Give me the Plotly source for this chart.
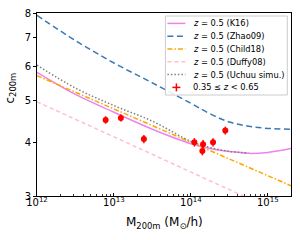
import plotly.graph_objects as go

# ---- data ----
mass_grid = [1e12, 10**12.5, 1e13, 10**13.5, 1e14, 10**14.25, 10**14.5, 10**14.75, 1e15, 2e15]
c_k16 = [5.82, 5.17, 4.70, 4.29, 3.97, 3.87, 3.81, 3.77, 3.79, 3.87]
c_zhao09 = [7.90, 6.90, 6.12, 5.50, 4.93, 4.66, 4.46, 4.36, 4.31, 4.29]
c_child18 = [5.72, 5.23, 4.78, 4.37, 4.00, None, 3.65, None, 3.34, 3.17]
c_duffy08 = [4.97, 4.53, 4.12, 3.75, 3.41, None, 3.10, None, 2.82, 2.67]

mass_uchuu = [1e12, 10**12.5, 1e13, 10**13.5, 1e14, 10**14.25, 10**14.5, 10**14.75]
c_uchuu = [6.05, 5.35, 4.87, 4.48, 4.02, 3.89, 3.81, 3.78]

obs_mass = [7.8e12, 1.23e13, 2.45e13, 1.11e14, 1.44e14, 1.41e14, 1.94e14, 2.8e14]
obs_c = [4.51, 4.56, 4.07, 4.00, 3.96, 3.82, 4.00, 4.26]
obs_err = [0.09, 0.09, 0.09, 0.09, 0.09, 0.09, 0.09, 0.09]

x_major = [1e12, 1e13, 1e14, 1e15]
x_major_text = ["10<sup>12</sup>", "10<sup>13</sup>", "10<sup>14</sup>", "10<sup>15</sup>"]
x_minor = [m * 10**e for e in (12, 13, 14) for m in range(2, 10)] + [2e15]
y_ticks = [3, 4, 5, 6, 7, 8]

labels = ["<i>z</i> = 0.5 (K16)", "<i>z</i> = 0.5 (Zhao09)", "<i>z</i> = 0.5 (Child18)",
          "<i>z</i> = 0.5 (Duffy08)", "<i>z</i> = 0.5 (Uchuu simu.)", "0.35 \u2264 <i>z</i> &lt; 0.65"]
x_title = "M<sub>200m</sub> (M<sub>\u2299</sub>/h)"
y_title = "c<sub>200m</sub>"

FONT = "DejaVu Sans"

# plot-area geometry (pixels) used to place the hand-made legend and titles
W, H = 300, 240
ML, MR, MT, MB = 36.5, 9.3, 13, 44
PW, PH = W - ML - MR, H - MT - MB


def px(x):
    return (x - ML) / PW


def py(y):
    return (H - MB - y) / PH


def pairs(xs, ys):
    ox, oy = [], []
    for a, b in zip(xs, ys):
        if b is not None:
            ox.append(a)
            oy.append(b)
    return ox, oy


styles = [
    dict(color="violet", width=1.5),
    dict(color="#3a78b5", width=1.5, dash="6px,3.5px"),
    dict(color="orange", width=1.5, dash="5px,2px,1.5px,2px"),
    dict(color="pink", width=1.5, dash="4px,3px"),
    dict(color="grey", width=1.5, dash="1.5px,2px"),
]

fig = go.Figure()
series = [(mass_grid, c_k16, "spline"), (mass_grid, c_zhao09, "spline"), (mass_grid, c_child18, "linear"),
          (mass_grid, c_duffy08, "linear"), (mass_uchuu, c_uchuu, "spline")]
for (xs, ys, shp), st in zip(series, styles):
    x, y = pairs(xs, ys)
    fig.add_trace(go.Scatter(x=x, y=y, mode="lines", line=dict(shape=shp, **st), showlegend=False))

fig.add_trace(go.Scatter(x=obs_mass, y=obs_c, mode="markers",
                         marker=dict(color="red", size=6),
                         error_y=dict(type="data", array=obs_err, color="red", thickness=1.5, width=0),
                         showlegend=False))

# ---- hand-made legend (matplotlib-like compact rows) ----
shapes = [dict(type="rect", xref="paper", yref="paper", x0=px(165), x1=px(287), y0=py(95), y1=py(16),
               line=dict(color="#cccccc", width=1), fillcolor="rgba(255,255,255,0.85)", layer="above")]
rows = [23.4, 36.2, 49.0, 61.8, 74.6, 87.4]
annotations = []
for i, lab in enumerate(labels):
    yy = rows[i]
    if i < 5:
        shapes.append(dict(type="line", xref="paper", yref="paper", x0=px(167), x1=px(185),
                           y0=py(yy), y1=py(yy), line=styles[i], layer="above"))
    else:
        shapes.append(dict(type="line", xref="paper", yref="paper", x0=px(172), x1=px(180),
                           y0=py(yy), y1=py(yy), line=dict(color="red", width=1.5), layer="above"))
        shapes.append(dict(type="line", xref="paper", yref="paper", x0=px(176), x1=px(176),
                           y0=py(yy - 4), y1=py(yy + 4), line=dict(color="red", width=1.5), layer="above"))
    annotations.append(dict(xref="paper", yref="paper", x=px(190.5), y=py(yy), xanchor="left", yanchor="middle",
                            text=lab, showarrow=False, font=dict(family=FONT, size=8.3, color="black")))

# axis titles
annotations.append(dict(xref="paper", yref="paper", x=px(163.6), y=py(223), xanchor="center", yanchor="middle",
                        text=x_title, showarrow=False, font=dict(family=FONT, size=12, color="black")))
annotations.append(dict(xref="paper", yref="paper", x=px(10), y=py(88), xanchor="center", yanchor="middle",
                        text=y_title, textangle=-90, showarrow=False, font=dict(family=FONT, size=12, color="black")))

axis_common = dict(showline=True, mirror=True, linecolor="black", linewidth=1, automargin=False,
                   showgrid=False, zeroline=False, tickcolor="black",
                   tickfont=dict(family=FONT, size=10, color="black"))

fig.update_xaxes(type="log", range=[12, 15.30103], tickvals=x_major, ticktext=x_major_text,
                 ticks="inside", ticklen=3.5, tickwidth=1, ticklabelstandoff=-3,
                 minor=dict(tickvals=x_minor, ticks="inside", ticklen=2, tickwidth=0.8, tickcolor="black"),
                 **axis_common)
fig.update_yaxes(type="log", range=[0.4771213, 0.9030900], tickvals=y_ticks, ticktext=[str(v) for v in y_ticks],
                 ticks="outside", ticklen=3, tickwidth=1,
                 **axis_common)

fig.update_layout(
    width=W, height=H,
    margin=dict(l=ML, r=MR, t=MT, b=MB),
    paper_bgcolor="white", plot_bgcolor="white",
    font=dict(family=FONT, color="black"),
    showlegend=False,
    hovermode=False,
    shapes=shapes,
    annotations=annotations,
)

fig.write_html("out.html", config={"displayModeBar": False, "staticPlot": True},
               post_script="document.body.style.margin='0px';document.body.style.overflow='hidden';")
